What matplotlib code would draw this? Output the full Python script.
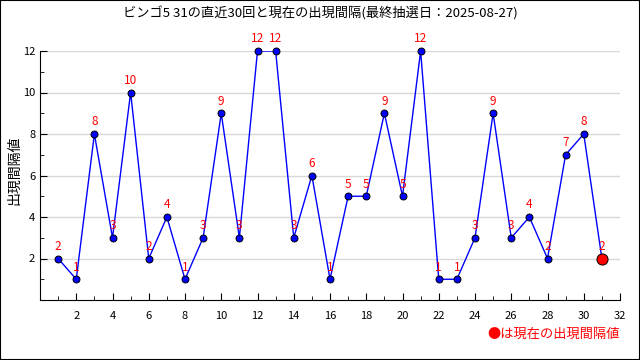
import matplotlib
matplotlib.use("Agg")
import matplotlib.pyplot as plt
from matplotlib.ticker import MultipleLocator

plt.rcParams['font.family'] = ['Noto Sans CJK JP', 'DejaVu Sans']

# 直近30回 + 現在の出現間隔
draw_no = list(range(1, 32))
interval = [2, 1, 8, 3, 10, 2, 4, 1, 3, 9, 3, 12, 12, 3, 6, 1, 5, 5, 9, 5,
            12, 1, 1, 3, 9, 3, 4, 2, 7, 8, 2]
title = "ビンゴ5 31の直近30回と現在の出現間隔(最終抽選日：2025-08-27)"

fig = plt.figure(figsize=(6.4, 3.6), dpi=100)
ax = fig.add_axes([40 / 640, 1 - 300 / 360, 580 / 640, 249 / 360])

ax.plot(draw_no, interval, color='blue', lw=1, zorder=3)
ax.plot(draw_no[:-1], interval[:-1], 'o', ms=5, mfc='blue', mec='black',
        mew=0.7, zorder=4, clip_on=False)
ax.plot(draw_no[-1:], interval[-1:], 'o', ms=8, mfc='red', mec='black',
        mew=0.7, zorder=5, clip_on=False)

for x, y in zip(draw_no, interval):
    ax.annotate(str(y), (x, y), xytext=(0, 4), textcoords='offset points',
                ha='center', va='bottom', color='red', fontsize=8.5, zorder=6)

ax.set_xlim(0, 32)
ax.set_ylim(0, 12)
ax.xaxis.set_minor_locator(MultipleLocator(1))
ax.yaxis.set_minor_locator(MultipleLocator(1))
ax.set_xticks(range(2, 33, 2))
ax.set_yticks(range(2, 13, 2))
ax.tick_params(which='both', direction='in', labelsize=8, colors='black')
ax.tick_params(which='major', length=5)
ax.tick_params(which='minor', length=3)
ax.tick_params(axis='x', pad=8)
ax.grid(axis='y', color='#d8d8d8', lw=1)
ax.set_axisbelow(True)
for s in ['top', 'right']:
    ax.spines[s].set_visible(False)

fig.text(14 / 640, 1 - 170 / 360, "出現間隔値", rotation=90, ha='center',
         va='center', fontsize=10)
fig.text(0.5, 1 - 13 / 360, title, ha='center', va='center', fontsize=9.5)
fig.text(620 / 640, 1 - 334 / 360, "●は現在の出現間隔値", ha='right',
         va='center', color='red', fontsize=9.5)

fig.patches.append(plt.Rectangle((0, 0), 1, 1, transform=fig.transFigure,
                                 fill=False, edgecolor='black', lw=1.5))

fig.savefig("out.png", dpi=100)
